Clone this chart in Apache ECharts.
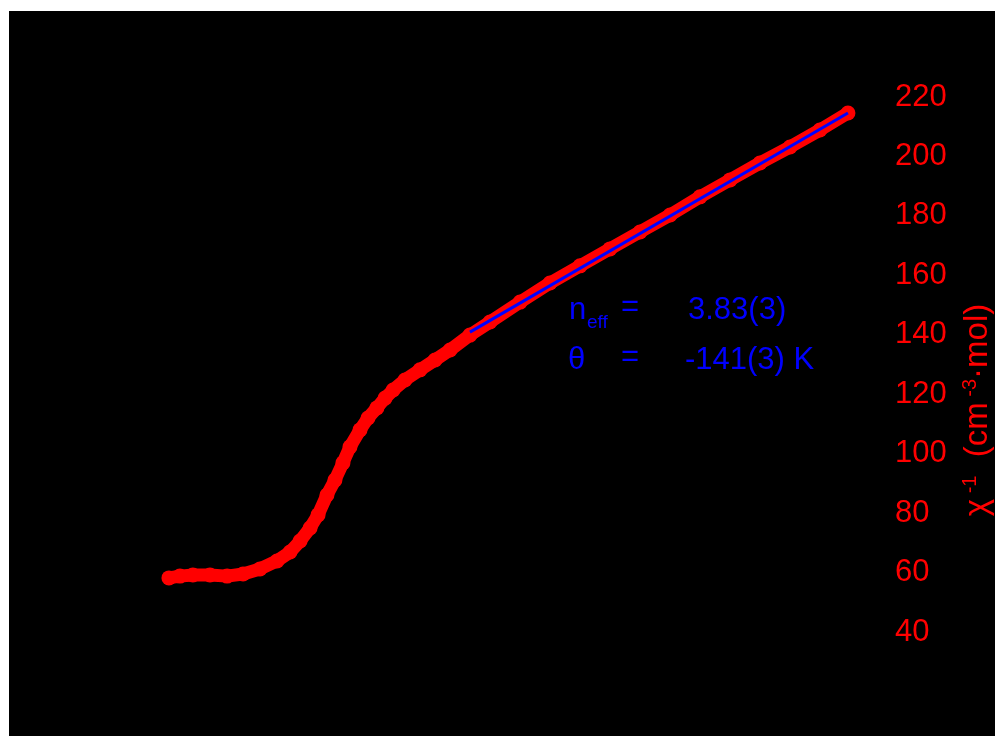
<!DOCTYPE html>
<html>
<head>
<meta charset="utf-8">
<script src="https://cdn.jsdelivr.net/npm/echarts@6/dist/echarts.min.js"></script>
<style>
  html, body { margin: 0; padding: 0; background: #fff; }
  #chart { width: 999px; height: 737px; }
</style>
</head>
<body>
<div id="chart"></div>
<script>
// temperature (K) and inverse susceptibility
var temps = [1.3, 6.1, 11.8, 19.3, 26.8, 33.8, 41.2, 48.7, 54.4, 58.8, 63.2, 66.7, 70.6, 74.1, 77.6, 80.7,
    85.1, 88.6, 92.5, 96.1, 99.6, 104.8, 111.4, 118.0, 124.6, 133.3, 142.1, 155.3, 168.4, 181.6, 194.7,
    207.9, 221.1, 234.2, 247.4, 260.5, 273.7, 286.8, 299.1];
var invChi = [58.2, 58.8, 59.2, 59.2, 58.8, 59.5, 61.2, 63.9, 66.9, 70.6, 75.0, 79.4, 86.1, 91.1, 96.9, 102.3,
    108.0, 112.0, 115.4, 118.7, 121.4, 124.8, 128.2, 131.5, 134.9, 139.9, 144.3, 151.0, 157.4, 163.2, 168.9,
    174.6, 180.3, 186.4, 192.1, 197.8, 203.2, 208.9, 214.6];
// Curie-Weiss fit line end points
var fitT = [133.3, 299.1];
var fitVal = [140.9, 214.6];
var yTicks = [40, 220, 20];

var dataPts = [];
for (var i = 0; i < temps.length; i++) {
    dataPts.push([temps[i], invChi[i]]);
}
var fitPts = [];
for (var j = 0; j < fitT.length; j++) {
    fitPts.push([fitT[j], fitVal[j]]);
}

var font = 'Liberation Sans, Arial, sans-serif';
var myChart = echarts.init(document.getElementById('chart'));
var option = {
    backgroundColor: '#fff',
    animation: false,
    grid: { left: 166, right: 149, top: 97, bottom: 105 },
    xAxis: {
        type: 'value', min: 0, max: 300, show: false
    },
    yAxis: {
        type: 'value',
        position: 'right',
        min: yTicks[0], max: yTicks[1], interval: yTicks[2],
        axisLine: { show: false },
        axisTick: { show: false },
        splitLine: { show: false },
        axisLabel: { color: '#ff0000', fontSize: 31, fontFamily: font, margin: 45 }
    },
    graphic: [
        { type: 'rect', z: -10, shape: { x: 9, y: 11, width: 986, height: 725 }, style: { fill: '#000' } },
        {
            type: 'text', x: 978, y: 410, rotation: Math.PI / 2,
            style: {
                text: '{n|χ}{sup| -1}{n|  (cm}{sup| -3}{n|·mol)}',
                align: 'center', verticalAlign: 'middle',
                rich: {
                    n: { fill: '#ff0000', fontSize: 33, fontFamily: font, lineHeight: 36 },
                    sup: { fill: '#ff0000', fontSize: 20, fontFamily: font, lineHeight: 36, verticalAlign: 'top' }
                }
            }
        },
        { type: 'text', x: 569, y: 310, style: { text: 'n', fill: '#0000ff', fontSize: 31, fontFamily: font, verticalAlign: 'middle' } },
        { type: 'text', x: 587, y: 323, style: { text: 'eff', fill: '#0000ff', fontSize: 19, fontFamily: font, verticalAlign: 'middle' } },
        { type: 'text', x: 621, y: 307, style: { text: '=', fill: '#0000ff', fontSize: 31, fontFamily: font, verticalAlign: 'middle' } },
        { type: 'text', x: 688, y: 310, style: { text: '3.83(3)', fill: '#0000ff', fontSize: 31, fontFamily: font, verticalAlign: 'middle' } },
        { type: 'text', x: 568, y: 360, style: { text: 'θ', fill: '#0000ff', fontSize: 31, fontFamily: font, verticalAlign: 'middle' } },
        { type: 'text', x: 621, y: 357, style: { text: '=', fill: '#0000ff', fontSize: 31, fontFamily: font, verticalAlign: 'middle' } },
        { type: 'text', x: 685, y: 360, style: { text: '-141(3) K', fill: '#0000ff', fontSize: 31, fontFamily: font, verticalAlign: 'middle' } }
    ],
    series: [
        {
            type: 'line',
            data: dataPts,
            symbol: 'circle',
            symbolSize: 15,
            showAllSymbol: true,
            lineStyle: { color: '#ff0000', width: 13, cap: 'round', join: 'round' },
            itemStyle: { color: '#ff0000' },
            z: 2
        },
        {
            type: 'line',
            data: fitPts,
            symbol: 'none',
            lineStyle: { color: '#0000ff', width: 3 },
            z: 3
        }
    ]
};
myChart.setOption(option);
</script>
</body>
</html>
